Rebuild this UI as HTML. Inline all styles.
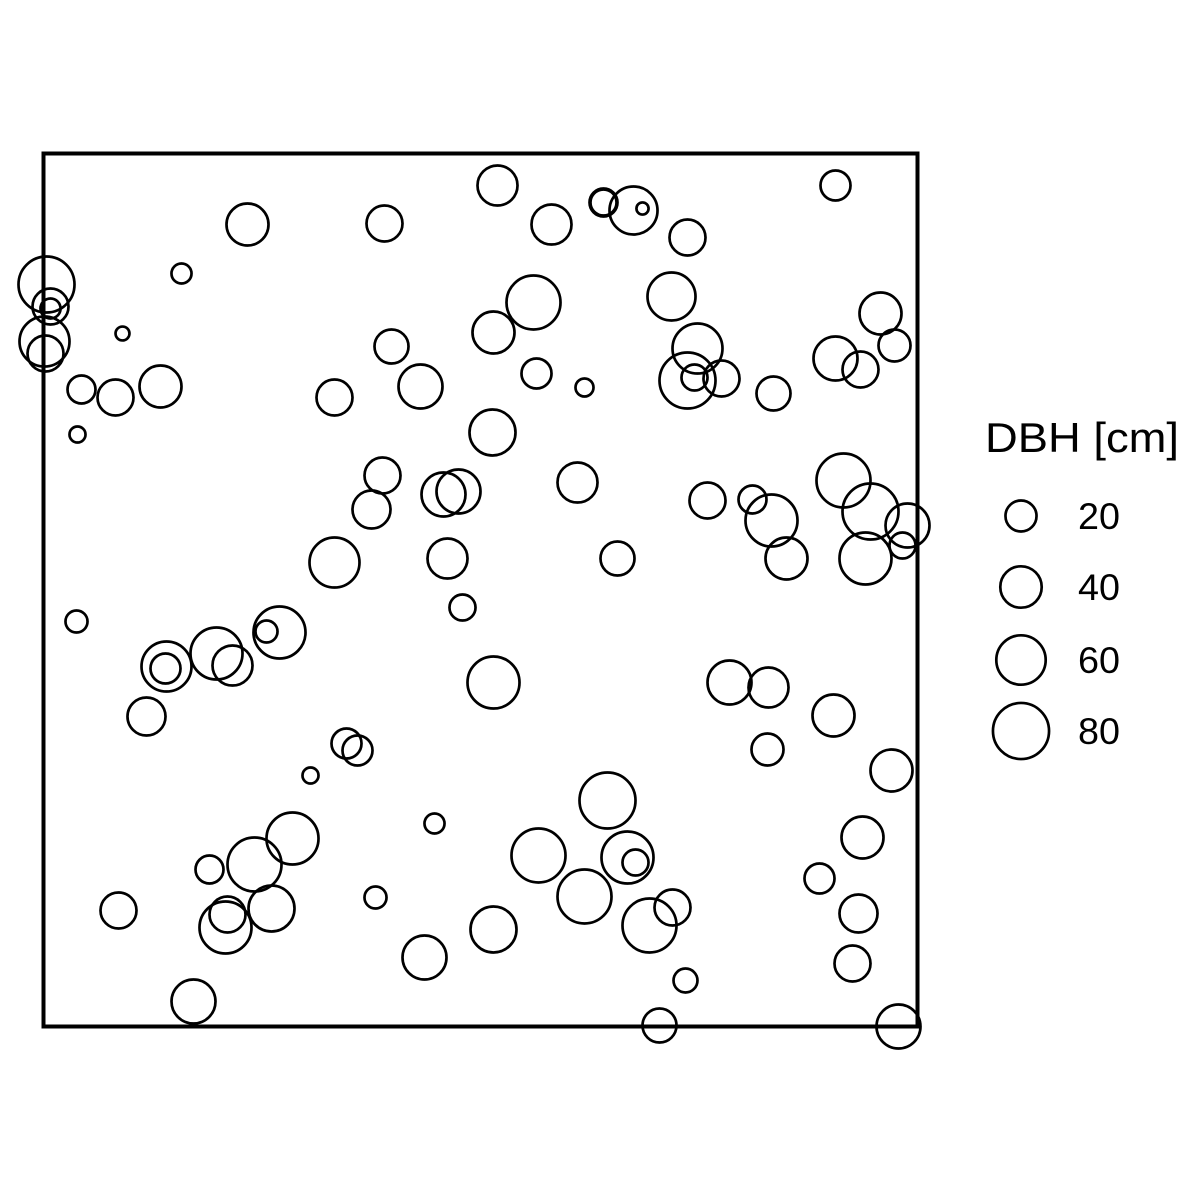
<!DOCTYPE html>
<html><head><meta charset="utf-8"><style>
html,body{margin:0;padding:0;background:#fff}
svg{display:block}
text{font-family:"Liberation Sans",Arial,sans-serif;fill:#000}
</style></head><body>
<svg id="chart" width="1181" height="1181" viewBox="0 0 1181 1181">
<rect x="0" y="0" width="1181" height="1181" fill="#fff"/>
<g id="trees"></g>
<rect x="43.5" y="153.5" width="874" height="873" fill="none" stroke="#000" stroke-width="4"/>
<g id="legend">
<text x="985" y="452" font-size="42" textLength="194" lengthAdjust="spacingAndGlyphs">DBH [cm]</text>
</g>
</svg>
<script>
// tree positions in plot units (0..874 x, 0..873 y) and DBH in cm
const xs=[454,560,560,590,599,792,204,341,508,644,3,7,7,138,1,2,79,490,628,450,837,348,654,644,651,678,792,817,851,38,72,117,291,377,493,541,730,34,449,339,400,415,328,534,664,709,800,827,728,864,859,822,743,291,404,574,419,33,236,223,173,123,122,189,450,686,725,103,790,303,314,724,267,848,564,249,819,391,495,584,592,211,166,776,541,332,75,228,184,182,450,606,629,815,381,809,642,150,616,855];
const ys=[841,824,824,816,818,841,802,803,802,789,742,720,718,753,685,673,693,724,730,694,713,680,678,646,649,648,668,657,681,637,629,640,629,640,653,639,633,592,594,551,532,535,517,544,526,527,546,515,506,501,481,468,468,464,468,468,419,405,394,395,373,360,358,361,344,344,339,310,311,283,276,277,251,256,226,188,189,203,171,169,164,162,157,148,130,129,116,118,112,99,97,101,119,113,69,63,46,25,1,0];
const dbh=[36.9,15.4,12.8,56.3,1.2,18.4,41.3,28.7,36.9,28.7,79.7,28.7,6.3,6.3,61.7,28.7,2.0,73.5,56.3,41.3,41.3,25.0,61.7,79.7,12.8,28.7,46.0,28.7,21.6,15.4,28.7,41.3,28.7,46.0,18.4,4.6,25.0,3.2,51.0,28.7,46.0,46.0,32.7,36.9,28.7,15.4,73.5,79.7,67.5,46.0,12.8,67.5,41.3,61.7,36.9,25.0,12.8,8.2,67.5,8.2,67.5,61.7,18.4,36.9,67.5,46.0,36.9,32.7,41.3,18.4,18.4,21.6,3.2,41.3,79.7,67.5,41.3,6.3,73.5,67.5,12.8,73.5,15.4,18.4,73.5,8.2,28.7,51.0,28.7,67.5,51.0,73.5,28.7,32.7,46.0,28.7,10.3,46.0,25.0,46.0];
const legendValues=[20,40,60,80];
const legendLabels=["20","40","60","80"];

const X0=43.5,Y1=1026.5,SX=1,SY=1;
const xScale=v=>X0+v*SX;
const yScale=v=>Y1-v*SY;
const rScale=d=>3+2.8*Math.sqrt(d);
const NS="http://www.w3.org/2000/svg";
const g=document.getElementById('trees');
for(let i=0;i<xs.length;i++){
  const c=document.createElementNS(NS,'circle');
  c.setAttribute('cx',xScale(xs[i]));
  c.setAttribute('cy',yScale(ys[i]));
  c.setAttribute('r',rScale(dbh[i]));
  c.setAttribute('fill','none');
  c.setAttribute('stroke','#000');
  c.setAttribute('stroke-width','2.7');
  
  
  g.appendChild(c);
}
const lg=document.getElementById('legend');
const ly=[516,587,660,731];
for(let i=0;i<legendValues.length;i++){
  const c=document.createElementNS(NS,'circle');
  c.setAttribute('cx',1021);
  c.setAttribute('cy',ly[i]);
  c.setAttribute('r',rScale(legendValues[i]));
  c.setAttribute('fill','none');
  c.setAttribute('stroke','#000');
  c.setAttribute('stroke-width','2.7');
  
  
  lg.appendChild(c);
  const t=document.createElementNS(NS,'text');
  t.setAttribute('x',1078);
  t.setAttribute('y',ly[i]+13);
  t.setAttribute('font-size','37');
  t.setAttribute('textLength','42');
  t.setAttribute('lengthAdjust','spacingAndGlyphs');
  t.textContent=legendLabels[i];
  
  
  lg.appendChild(t);
}
</script>
</body></html>
